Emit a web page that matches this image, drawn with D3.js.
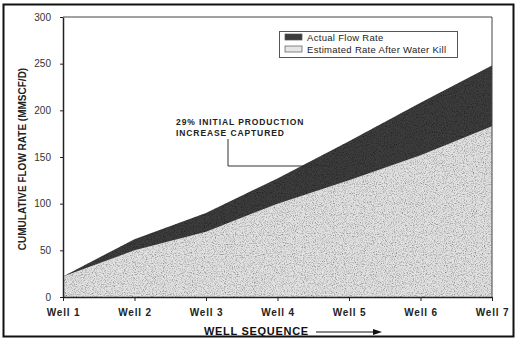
<!DOCTYPE html>
<html>
<head>
<meta charset="utf-8">
<script src="https://cdn.jsdelivr.net/npm/d3@7"></script>
<style>
  html, body { margin: 0; padding: 0; background: #fff; }
  svg { display: block; font-family: "Liberation Sans", Arial, sans-serif; }
</style>
</head>
<body>
<div id="chart"></div>
<script>
// values
const wells = ["Well 1", "Well 2", "Well 3", "Well 4", "Well 5", "Well 6", "Well 7"];
const actualRate = [22, 62, 90, 127, 167, 208, 248];
const estimatedRate = [22, 50, 70, 100, 125, 152, 183];
const yTicks = [0, 50, 100, 150, 200, 250, 300];

const width = 519, height = 341;
const margin = { top: 17, right: 27, bottom: 44, left: 63 };

const svg = d3.select("#chart").append("svg")
  .attr("width", width)
  .attr("height", height);

// grainy print look
const defs = svg.append("defs");
const grain = defs.append("filter").attr("id", "grain")
  .attr("x", 0).attr("y", 0).attr("width", 1).attr("height", 1);
grain.append("feTurbulence")
  .attr("type", "fractalNoise").attr("baseFrequency", 0.9)
  .attr("numOctaves", 2).attr("seed", 3).attr("result", "noise");
grain.append("feColorMatrix").attr("in", "noise").attr("type", "matrix")
  .attr("values", "0 0 0 0 0  0 0 0 0 0  0 0 0 0 0  0 0 0 -1.6 0.9")
  .attr("result", "dots");
grain.append("feComposite").attr("in", "dots").attr("in2", "SourceGraphic")
  .attr("operator", "in").attr("result", "dotsIn");
grain.append("feMerge").selectAll("feMergeNode")
  .data(["SourceGraphic", "dotsIn"]).join("feMergeNode").attr("in", d => d);

// outer frame
svg.append("rect")
  .attr("x", 3.5).attr("y", 4.5)
  .attr("width", 510).attr("height", 332)
  .attr("fill", "none").attr("stroke", "#111").attr("stroke-width", 2);

const x = d3.scalePoint()
  .domain(wells)
  .range([margin.left, width - margin.right]);

const y = d3.scaleLinear()
  .domain([0, 300])
  .range([height - margin.bottom, margin.top]);

const rows = wells.map((w, i) => ({ well: w, actual: actualRate[i], est: estimatedRate[i] }));

const areaActual = d3.area()
  .x(d => x(d.well))
  .y0(y(0))
  .y1(d => y(d.actual));

const areaEst = d3.area()
  .x(d => x(d.well))
  .y0(y(0))
  .y1(d => y(d.est));

svg.append("path")
  .datum(rows)
  .attr("d", areaActual)
  .attr("fill", "#3c3c3c")
  .attr("filter", "url(#grain)");

svg.append("path")
  .datum(rows)
  .attr("d", areaEst)
  .attr("fill", "#e2e2e2")
  .attr("filter", "url(#grain)");

// plot frame top + right
svg.append("path")
  .attr("d", `M${margin.left},${margin.top}H${width - margin.right}V${height - margin.bottom}`)
  .attr("fill", "none").attr("stroke", "#444").attr("stroke-width", 1);

// axes
const xAxis = svg.append("g")
  .attr("transform", `translate(0,${height - margin.bottom})`)
  .call(d3.axisBottom(x).tickSize(4).tickSizeOuter(0).tickPadding(8));
xAxis.select(".domain").attr("stroke", "#222").attr("stroke-width", 1.5);
xAxis.selectAll(".tick line").attr("stroke", "#222");
xAxis.selectAll("text")
  .attr("font-size", 10).attr("font-weight", "bold")
  .attr("letter-spacing", 0.8).attr("fill", "#222")
  .attr("font-family", "Liberation Sans, Arial, sans-serif");

const yAxis = svg.append("g")
  .attr("transform", `translate(${margin.left},0)`)
  .call(d3.axisLeft(y).tickValues(yTicks).tickSize(3).tickSizeOuter(0).tickPadding(9));
yAxis.select(".domain").attr("stroke", "#222").attr("stroke-width", 1.5);
yAxis.selectAll(".tick line").attr("stroke", "#222");
yAxis.selectAll("text")
  .attr("font-size", 10).attr("fill", "#333")
  .attr("font-family", "Liberation Sans, Arial, sans-serif");

// axis titles
svg.append("text")
  .attr("transform", `translate(26,${(margin.top + height - margin.bottom) / 2 + 2}) rotate(-90)`)
  .attr("text-anchor", "middle")
  .attr("font-size", 10).attr("font-weight", "bold").attr("fill", "#222")
  .text("CUMULATIVE FLOW RATE (MMSCF/D)");

svg.append("text")
  .attr("x", 204).attr("y", 335)
  .attr("font-size", 11).attr("font-weight", "bold").attr("letter-spacing", 0.7)
  .attr("fill", "#111")
  .text("WELL SEQUENCE");

svg.append("line")
  .attr("x1", 316).attr("x2", 374).attr("y1", 332).attr("y2", 332)
  .attr("stroke", "#111").attr("stroke-width", 1.2);
svg.append("path")
  .attr("d", "M373,329 L382,332 L373,335 Z")
  .attr("fill", "#111");

// annotation
const note = svg.append("text")
  .attr("font-size", 8.5).attr("font-weight", "bold").attr("letter-spacing", 0.9)
  .attr("fill", "#222");
note.append("tspan").attr("x", 176).attr("y", 125).text("29% INITIAL PRODUCTION");
note.append("tspan").attr("x", 176).attr("y", 136).text("INCREASE CAPTURED");

svg.append("path")
  .attr("d", "M228,139 V166 H333")
  .attr("fill", "none").attr("stroke", "#333").attr("stroke-width", 1);

// legend
const legend = svg.append("g");
legend.append("rect")
  .attr("x", 279.5).attr("y", 31.5).attr("width", 178).attr("height", 26)
  .attr("fill", "#fff").attr("stroke", "#555").attr("stroke-width", 1);

const legendItems = [
  { label: "Actual Flow Rate", fill: "#3c3c3c" },
  { label: "Estimated Rate After Water Kill", fill: "#e6e6e6" }
];
const li = legend.selectAll("g.item").data(legendItems).join("g")
  .attr("class", "item")
  .attr("transform", (d, i) => `translate(285,${34 + i * 12})`);
li.append("rect")
  .attr("width", 17).attr("height", 6)
  .attr("fill", d => d.fill).attr("stroke", "#555").attr("stroke-width", 0.7);
li.append("text")
  .attr("x", 22).attr("y", 6.5)
  .attr("font-size", 9.5).attr("fill", "#222").attr("letter-spacing", 0.3)
  .text(d => d.label);
</script>
</body>
</html>
